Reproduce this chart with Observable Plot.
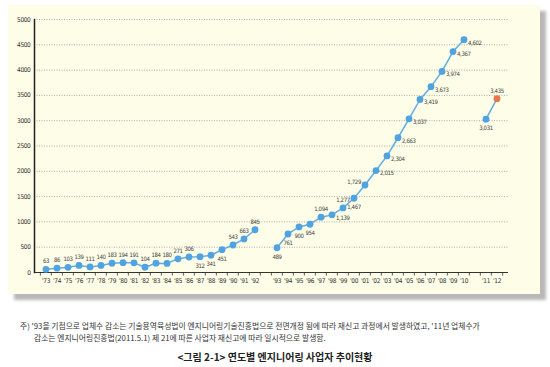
<!DOCTYPE html>
<html><head><meta charset="utf-8">
<script src="https://cdn.jsdelivr.net/npm/d3@7"></script>
<script src="https://cdn.jsdelivr.net/npm/@observablehq/plot@0.6"></script>
<style>
body{margin:0;background:#fff;width:550px;height:367px;overflow:hidden;font-family:"Noto Sans CJK KR",sans-serif;}
#panel{position:absolute;left:8px;top:5px;width:532px;height:289px;background:#fefde7;box-shadow:6px 6px 3px #b8b8b8;}
#chart{position:absolute;left:0;top:0;}
#chart svg text{font-stretch:condensed;letter-spacing:-0.35px;}
#note{position:absolute;left:20px;top:320px;font-size:7.8px;color:#333;line-height:12px;white-space:nowrap;}
#note .l2{padding-left:14px;}
#caption{position:absolute;left:0;width:550px;top:349px;text-align:center;font-size:10px;font-weight:600;color:#222;}
</style>
</head><body>
<div id="panel"></div>
<div id="chart"></div>
<div id="note"><div>주) '93을 기점으로 업체수 감소는 기술용역육성법이 엔지니어링기술진흥법으로 전면개정 됨에 따라 재신고 과정에서 발생하였고, '11년 업체수가</div><div class="l2">감소는 엔지니어링진흥법(2011.5.1) 제 21에 따른 사업자 재신고에 따라 일시적으로 발생함.</div></div>
<div id="caption">&lt;그림 2-1&gt; 연도별 엔지니어링 사업자 추이현황</div>
<script>
// ---- data ----
const years = ["'73","'74","'75","'76","'77","'78","'79","'80","'81","'82","'83","'84","'85","'86","'87","'88","'89","'90","'91","'92",
  "'93","'94","'95","'96","'97","'98","'99","'00","'01","'02","'03","'04","'05","'06","'07","'08","'09","'10",
  "'11","'12"];
const counts = [63,86,103,139,111,140,183,194,191,104,184,180,271,306,312,341,451,543,663,845,
  489,761,900,954,1094,1139,1277,1467,1729,2015,2304,2663,3037,3419,3673,3974,4367,4602,
  3031,3435];
const gapsAfter = ["'92","'10"];
const highlightYear = "'12";
const yTicks = [0,500,1000,1500,2000,2500,3000,3500,4000,4500,5000];

// ---- label placement (style) ----
const below = new Set(["'87","'88","'89","'93","'94","'95","'96","'00","'11"]);
const right = new Set(["'98","'02","'03","'04","'05","'06","'07","'08","'09","'10"]);
const left = new Set(["'01"]);

// ---- build slots ----
const slots = [];
let seg = 0;
const data = years.map((y, i) => {
  slots.push(y);
  const d = {year: y, value: counts[i], seg};
  if (gapsAfter.includes(y)) { slots.push("gap" + seg); seg++; }
  return d;
});
const place = d => below.has(d.year) ? "b" : right.has(d.year) ? "r" : left.has(d.year) ? "l" : "a";

const W = 550, H = 300, ML = 34, MR = 42, MT = 19, MB = 28;
const step = (W - ML - MR) / slots.length;
const fmt = d3.format(",");
const blue = "#4fa3e0";
const fontLab = "'DejaVu Sans Condensed','Liberation Sans Narrow','DejaVu Sans',sans-serif";

const chart = Plot.plot({
  width: W, height: H,
  marginLeft: ML, marginRight: MR, marginTop: MT, marginBottom: MB,
  style: {background: "transparent", fontFamily: fontLab, color: "#333"},
  x: {type: "band", domain: slots, padding: 0, label: null},
  y: {domain: [0, 5000], label: null},
  marks: [
    Plot.gridY(yTicks.filter(t => t > 0), {stroke: "#999", strokeOpacity: 1, strokeDasharray: "1,1.5", strokeWidth: 0.8}),
    Plot.axisY(yTicks, {tickSize: 0, tickPadding: 4, fontSize: 6.5, tickFormat: d => String(d)}),
    Plot.axisX(years, {tickSize: 0, tickPadding: 6, fontSize: 6.5}),
    Plot.ruleY([0], {stroke: "#333", strokeWidth: 1}),
    Plot.ruleX(slots, {x: d => d, y1: 0, y2: -70, dx: -step / 2, stroke: "#333", strokeWidth: 0.8}),
    Plot.ruleX(slots.slice(-1), {x: d => d, y1: 0, y2: -70, dx: step / 2, stroke: "#333", strokeWidth: 0.8}),
    Plot.frame({anchor: "left", stroke: "#222", strokeWidth: 1.5}),
    Plot.line(data, {x: "year", y: "value", z: "seg", stroke: "#62ace4", strokeWidth: 1.5}),
    Plot.dot(data, {x: "year", y: "value", r: 3.4, fill: d => d.year === highlightYear ? "#e8764a" : blue, stroke: "none"}),
    Plot.text(data.filter(d => place(d) === "a"), {x: "year", y: "value", text: d => fmt(d.value), dy: -8, fontSize: 6, fill: "#444"}),
    Plot.text(data.filter(d => place(d) === "b"), {x: "year", y: "value", text: d => fmt(d.value), dy: 9, fontSize: 6, fill: "#444"}),
    Plot.text(data.filter(d => place(d) === "r"), {x: "year", y: "value", text: d => fmt(d.value), dx: 4, dy: 3, textAnchor: "start", fontSize: 6, fill: "#444"}),
    Plot.text(data.filter(d => place(d) === "l"), {x: "year", y: "value", text: d => fmt(d.value), dx: -4, dy: -3, textAnchor: "end", fontSize: 6, fill: "#444"})
  ]
});
document.getElementById("chart").appendChild(chart);
</script>
</body></html>
